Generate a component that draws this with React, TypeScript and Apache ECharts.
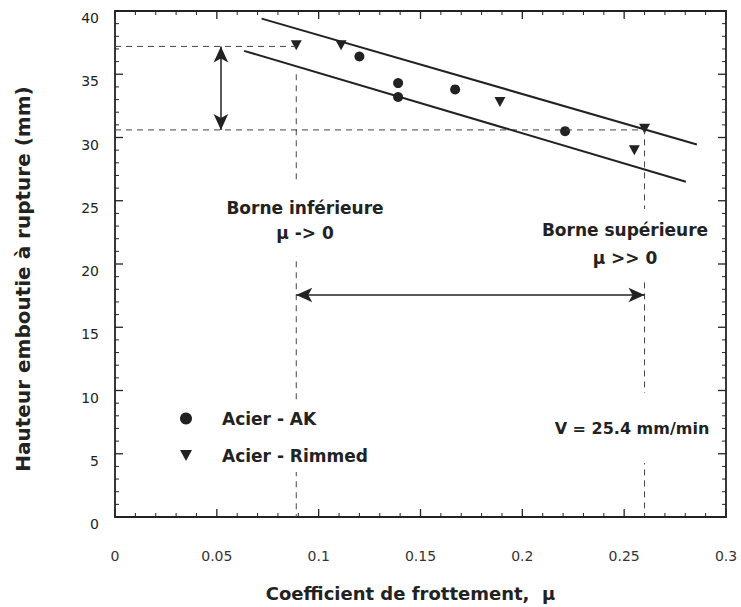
import React, { useEffect, useRef } from "react";
import * as echarts from "echarts";

// ---- data ----
const akMu = [0.12, 0.139, 0.139, 0.167, 0.221];
const akHeight = [36.4, 34.3, 33.2, 33.8, 30.5];

const rimmedMu = [0.089, 0.111, 0.189, 0.26, 0.255];
const rimmedHeight = [37.3, 37.3, 32.8, 30.7, 29.0];

// bounding lines of the scatter band (start / end points)
const upperLineMu = [0.072, 0.2857];
const upperLineH = [39.4, 29.45];
const lowerLineMu = [0.0634, 0.2803];
const lowerLineH = [36.85, 26.5];

// guide lines
const lowerBoundMu = 0.089;
const upperBoundMu = 0.26;
const highLevel = 37.2;
const lowLevel = 30.6;
const lowerBoundTop = 35.0;
const heightArrowMu = 0.052;
const muArrowLevel = 17.55;

// axes
const xMin = 0;
const xMax = 0.3;
const xTickInterval = 0.05;
const yMin = 0;
const yMax = 40;
const yTickInterval = 5;
const minorPerMajor = 5;

const FONT = "DejaVu Sans";
const INK = "#222";
const DOWN_TRIANGLE = "path://M0,0L10,0L5,9Z";

function frameAxis(extra: any) {
  return {
    type: "value",
    splitLine: { show: false },
    minorSplitLine: { show: false },
    axisLine: { show: true, onZero: false, lineStyle: { color: INK, width: 1.8 } },
    axisTick: { show: false },
    minorTick: { show: false },
    ...extra,
  };
}

// tick marks on the four sides of the frame, placed through the axes' scales
function frameTicks() {
  const items: any[] = [];
  const majorLen = 8;
  const minorLen = 4;
  const nx = Math.round((xMax - xMin) / (xTickInterval / minorPerMajor));
  for (let i = 0; i <= nx; i++) {
    const v = +(xMin + (i * xTickInterval) / minorPerMajor).toFixed(4);
    const major = i % minorPerMajor === 0;
    const len = major ? majorLen : minorLen;
    const w = major ? 1.3 : 1;
    items.push({ value: [v, yMin], symbolSize: [w, len], symbolOffset: [0, -len / 2] });
    items.push({ value: [v, yMax], symbolSize: [w, len], symbolOffset: [0, len / 2] });
  }
  const ny = Math.round((yMax - yMin) / (yTickInterval / minorPerMajor));
  for (let i = 0; i <= ny; i++) {
    const v = +(yMin + (i * yTickInterval) / minorPerMajor).toFixed(4);
    const major = i % minorPerMajor === 0;
    const len = major ? majorLen : minorLen;
    const w = major ? 1.3 : 1;
    items.push({ value: [xMin, v], symbolSize: [len, w], symbolOffset: [len / 2, 0] });
    items.push({ value: [xMax, v], symbolSize: [len, w], symbolOffset: [-len / 2, 0] });
  }
  return items;
}

export default function App() {
  const ref = useRef<HTMLDivElement>(null);
  useEffect(() => {
    if (!ref.current) return;
    const chart = echarts.init(ref.current, null, { renderer: "svg" });
    const pair = (xs: number[], ys: number[]) => xs.map((x, i) => [x, ys[i]]);

    const dashStyle = { color: "#444", width: 1, type: [6, 5] as number[] };

    chart.setOption({
      animation: false,
      backgroundColor: "#fff",
      grid: { left: 115, top: 11, right: 15, bottom: 90 },
      xAxis: [
        frameAxis({
          min: xMin,
          max: xMax,
          interval: xTickInterval,
          position: "bottom",
          axisLabel: { fontFamily: FONT, fontSize: 14, color: "#333", margin: 32 },
          name: "Coefficient de frottement,  \u03bc",
          nameLocation: "middle",
          nameGap: 67,
          nameTextStyle: {
            fontFamily: FONT,
            fontSize: 18,
            fontWeight: "bold",
            color: INK,
            padding: [0, 20, 0, 0],
          },
        }),
        frameAxis({
          min: xMin,
          max: xMax,
          interval: xTickInterval,
          position: "top",
          axisLabel: { show: false },
        }),
      ],
      yAxis: [
        frameAxis({
          min: yMin,
          max: yMax,
          interval: yTickInterval,
          position: "left",
          axisLabel: {
            fontFamily: FONT,
            fontSize: 14,
            color: INK,
            margin: 16,
            verticalAlign: "top",
          },
          name: "Hauteur emboutie \u00e0 rupture (mm)",
          nameLocation: "middle",
          nameGap: 82,
          nameTextStyle: {
            fontFamily: FONT,
            fontSize: 20,
            fontWeight: "bold",
            color: INK,
            padding: [0, 30, 0, 0],
          },
        }),
        frameAxis({
          min: yMin,
          max: yMax,
          interval: yTickInterval,
          position: "right",
          axisLabel: { show: false },
        }),
      ],
      legend: {
        orient: "vertical",
        left: 175,
        top: 400,
        padding: [10, 6, 8, 5],
        itemGap: 20,
        itemWidth: 12,
        itemHeight: 12,
        backgroundColor: "#fff",
        textStyle: {
          fontFamily: FONT,
          fontSize: 17,
          fontWeight: "bold",
          color: INK,
          padding: [0, 0, 0, 25],
        },
        data: [
          { name: "Acier - AK", icon: "circle" },
          { name: "Acier - Rimmed", icon: DOWN_TRIANGLE },
        ],
      },
      series: [
        {
          type: "scatter",
          name: "frame-ticks",
          data: frameTicks(),
          symbol: "rect",
          itemStyle: { color: INK, opacity: 1 },
          clip: false,
          silent: true,
        },
        {
          type: "line",
          name: "guide-high",
          data: [
            [xMin, highLevel],
            [lowerBoundMu, highLevel],
          ],
          symbol: "none",
          lineStyle: dashStyle,
          silent: true,
        },
        {
          type: "line",
          name: "guide-lower-bound",
          data: [
            [lowerBoundMu, lowerBoundTop],
            [lowerBoundMu, yMin],
          ],
          symbol: "none",
          lineStyle: dashStyle,
          silent: true,
        },
        {
          type: "line",
          name: "guide-low",
          data: [
            [xMin, lowLevel],
            [upperBoundMu, lowLevel],
            [upperBoundMu, yMin],
          ],
          symbol: "none",
          lineStyle: dashStyle,
          silent: true,
        },
        {
          type: "line",
          name: "upper",
          data: pair(upperLineMu, upperLineH),
          symbol: "none",
          lineStyle: { color: INK, width: 2 },
          silent: true,
        },
        {
          type: "line",
          name: "lower",
          data: pair(lowerLineMu, lowerLineH),
          symbol: "none",
          lineStyle: { color: INK, width: 2 },
          silent: true,
        },
        {
          type: "line",
          name: "arrows",
          data: [],
          silent: true,
          markLine: {
            silent: true,
            symbol: ["arrow", "arrow"],
            symbolSize: [11, 16],
            label: { show: false },
            lineStyle: { color: INK, width: 1.5, type: "solid" },
            data: [
              [{ coord: [heightArrowMu, highLevel] }, { coord: [heightArrowMu, lowLevel] }],
              [{ coord: [lowerBoundMu, muArrowLevel] }, { coord: [upperBoundMu, muArrowLevel] }],
            ],
          },
        },
        {
          type: "scatter",
          name: "Acier - AK",
          data: pair(akMu, akHeight),
          symbol: "circle",
          symbolSize: 10,
          itemStyle: { color: INK, opacity: 1 },
        },
        {
          type: "scatter",
          name: "Acier - Rimmed",
          data: pair(rimmedMu, rimmedHeight),
          symbol: DOWN_TRIANGLE,
          symbolSize: [11, 10],
          itemStyle: { color: INK, opacity: 1 },
        },
      ],
      graphic: [
        {
          type: "text",
          z: 100,
          x: 305,
          y: 220,
          style: {
            text: "Borne inf\u00e9rieure\n\u03bc -> 0",
            fontFamily: FONT,
            fontSize: 17,
            fontWeight: "bold",
            fill: INK,
            align: "center",
            verticalAlign: "middle",
            lineHeight: 25,
            backgroundColor: "#fff",
            padding: [6, 4, 16, 4],
          },
        },
        {
          type: "text",
          z: 100,
          x: 625,
          y: 244,
          style: {
            text: "Borne sup\u00e9rieure\n\u03bc >> 0",
            fontFamily: FONT,
            fontSize: 17,
            fontWeight: "bold",
            fill: INK,
            align: "center",
            verticalAlign: "middle",
            lineHeight: 28,
            backgroundColor: "#fff",
            padding: [1, 4, 13, 4],
          },
        },
        {
          type: "text",
          z: 100,
          x: 632,
          y: 428,
          style: {
            text: "V = 25.4 mm/min",
            fontFamily: FONT,
            fontSize: 16,
            fontWeight: "bold",
            fill: INK,
            align: "center",
            verticalAlign: "middle",
            lineHeight: 20,
            backgroundColor: "#fff",
            padding: [23, 4, 27, 4],
          },
        },
      ],
    });
    return () => chart.dispose();
  }, []);
  return (
    <div
      ref={ref}
      style={{ position: "fixed", left: 0, top: 0, width: 741, height: 607, background: "#fff" }}
    />
  );
}
